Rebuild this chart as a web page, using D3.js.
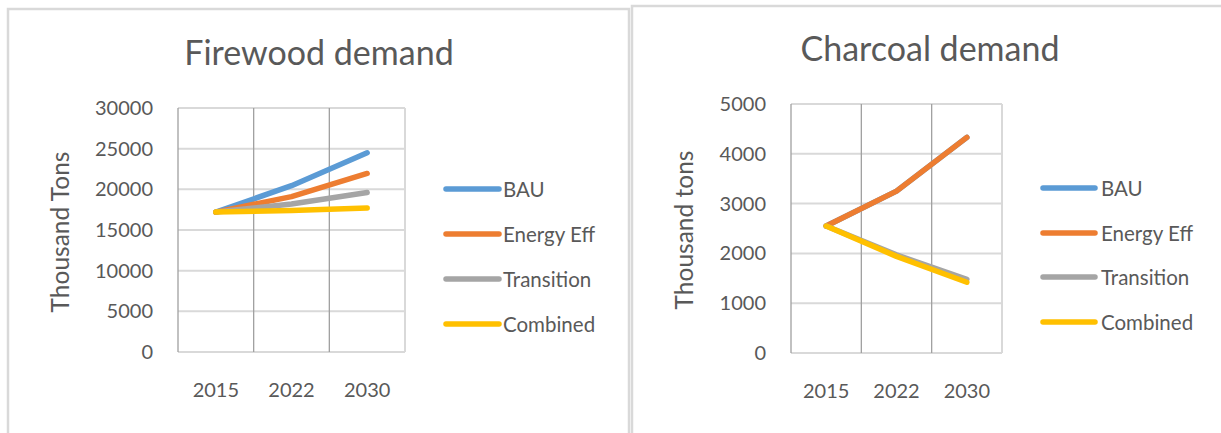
<!DOCTYPE html>
<html>
<head>
<meta charset="utf-8">
<script src="https://cdn.jsdelivr.net/npm/d3@7"></script>
<style>
  html, body { margin: 0; padding: 0; background: #fff; }
  svg { display: block; }
  text { font-family: Lato, "Open Sans", sans-serif; fill: #595959; }
</style>
</head>
<body>
<svg id="chart" width="1221" height="433"></svg>
<script>
// Categories and series
const years = ["2015", "2022", "2030"];
const seriesNames = ["BAU", "Energy Eff", "Transition", "Combined"];
const seriesColors = ["#5b9bd5", "#ed7d31", "#a5a5a5", "#ffc000"];

// Firewood demand, thousand tons
const firewoodBAU = [17200, 20450, 24500];
const firewoodEnergyEff = [17200, 19100, 21950];
const firewoodTransition = [17200, 18200, 19600];
const firewoodCombined = [17200, 17400, 17700];
const firewoodTicks = [0, 5000, 10000, 15000, 20000, 25000, 30000];

// Charcoal demand, thousand tons
const charcoalBAU = [2550, 3250, 4330];
const charcoalEnergyEff = [2550, 3250, 4330];
const charcoalTransition = [2550, 1970, 1480];
const charcoalCombined = [2550, 1940, 1420];
const charcoalTicks = [0, 1000, 2000, 3000, 4000, 5000];

const svg = d3.select("#chart");

const panels = [
  {
    title: "Firewood demand",
    yTitle: "Thousand Tons",
    series: [firewoodBAU, firewoodEnergyEff, firewoodTransition, firewoodCombined],
    ticks: firewoodTicks,
    box: { x: 8, y: 9, w: 621 },
    plot: { x0: 178, x1: 405, y0: 108, y1: 352 },
    titleX: 319, titleY: 65,
    yTitleX: 59, yTitleY: 232,
    legend: { x0: 446, x1: 499, tx: 503, y: [189, 234, 279, 324] }
  },
  {
    title: "Charcoal demand",
    yTitle: "Thousand tons",
    series: [charcoalBAU, charcoalEnergyEff, charcoalTransition, charcoalCombined],
    ticks: charcoalTicks,
    box: { x: 632, y: 6, w: 600 },
    plot: { x0: 791, x1: 1002, y0: 104, y1: 353 },
    titleX: 930, titleY: 61,
    yTitleX: 683, yTitleY: 230,
    legend: { x0: 1043, x1: 1095, tx: 1101, y: [188, 233, 277, 322] }
  }
];

panels.forEach(p => {
  const g = svg.append("g");

  // chart frame
  g.append("rect")
    .attr("x", p.box.x).attr("y", p.box.y)
    .attr("width", p.box.w).attr("height", 500)
    .attr("fill", "#fff").attr("stroke", "#d9d9d9").attr("stroke-width", 2.5);

  const x = d3.scaleBand().domain(years).range([p.plot.x0, p.plot.x1]);
  const y = d3.scaleLinear()
    .domain([0, d3.max(p.ticks)])
    .range([p.plot.y1, p.plot.y0]);

  // horizontal gridlines
  g.append("g").selectAll("line").data(p.ticks).join("line")
    .attr("x1", p.plot.x0).attr("x2", p.plot.x1)
    .attr("y1", d => y(d)).attr("y2", d => y(d))
    .attr("stroke", "#d9d9d9").attr("stroke-width", 2);

  // right border of plot area
  g.append("line")
    .attr("x1", p.plot.x1).attr("x2", p.plot.x1)
    .attr("y1", p.plot.y0).attr("y2", p.plot.y1)
    .attr("stroke", "#d9d9d9").attr("stroke-width", 2);

  // vertical gridlines between categories and the value axis line
  const vLines = [p.plot.x0].concat(years.slice(1).map(d => x(d)));
  g.append("g").selectAll("line").data(vLines).join("line")
    .attr("x1", d => d).attr("x2", d => d)
    .attr("y1", p.plot.y0).attr("y2", p.plot.y1)
    .attr("stroke", "#a0a0a0").attr("stroke-width", 1.3);

  // y tick labels
  const yAxis = d3.axisLeft(y).tickValues(p.ticks).tickSize(0).tickPadding(25)
    .tickFormat(d3.format("d"));
  const ya = g.append("g").attr("transform", `translate(${p.plot.x0},0)`).call(yAxis);
  ya.select(".domain").remove();
  ya.selectAll("text").attr("font-size", 20).attr("fill", "#595959")
    .attr("font-family", "Lato");

  // x tick labels
  const xAxis = d3.axisBottom(x).tickSize(0).tickPadding(31);
  const xa = g.append("g").attr("transform", `translate(0,${p.plot.y1})`).call(xAxis);
  xa.select(".domain").remove();
  xa.selectAll("text").attr("font-size", 20).attr("fill", "#595959")
    .attr("font-family", "Lato");

  // series lines
  const line = d3.line()
    .x((d, i) => x(years[i]) + x.bandwidth() / 2)
    .y(d => y(d));
  p.series.forEach((s, i) => {
    g.append("path")
      .datum(s)
      .attr("d", line)
      .attr("fill", "none")
      .attr("stroke", seriesColors[i])
      .attr("stroke-width", 5.5)
      .attr("stroke-linecap", "round")
      .attr("stroke-linejoin", "round");
  });

  // title
  g.append("text")
    .attr("x", p.titleX).attr("y", p.titleY)
    .attr("text-anchor", "middle")
    .attr("font-size", 34)
    .text(p.title);

  // y axis title
  g.append("text")
    .attr("transform", `translate(${p.yTitleX},${p.yTitleY}) rotate(-90)`)
    .attr("text-anchor", "middle")
    .attr("dominant-baseline", "central")
    .attr("font-size", 24.5)
    .text(p.yTitle);

  // legend
  const lg = g.append("g").selectAll("g").data(seriesNames).join("g");
  lg.append("line")
    .attr("x1", p.legend.x0).attr("x2", p.legend.x1)
    .attr("y1", (d, i) => p.legend.y[i]).attr("y2", (d, i) => p.legend.y[i])
    .attr("stroke", (d, i) => seriesColors[i])
    .attr("stroke-width", 5.5)
    .attr("stroke-linecap", "round");
  lg.append("text")
    .attr("x", p.legend.tx)
    .attr("y", (d, i) => p.legend.y[i])
    .attr("dominant-baseline", "central")
    .attr("font-size", 20.5)
    .text(d => d);
});
</script>
</body>
</html>
